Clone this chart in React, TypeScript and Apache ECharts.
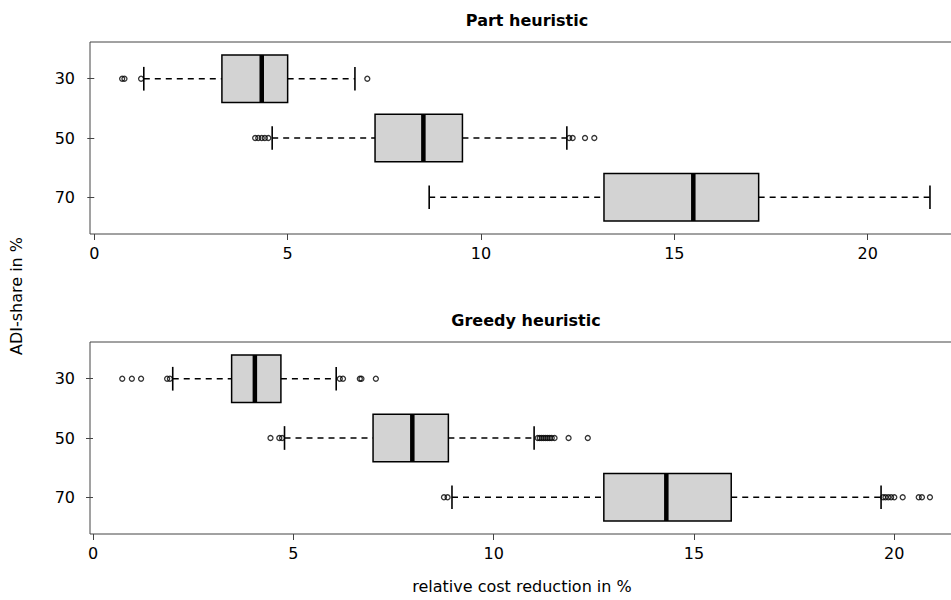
import React, { useEffect, useRef } from "react";
import * as echarts from "echarts";

// ADI-share groups, from top to bottom of each panel
const shareLabels = ["30", "50", "70"];
const xTicks = [0, 5, 10, 15, 20];

// Five-number summaries: [lower whisker, Q1, median, Q3, upper whisker]
const partStats = [
  [1.28, 3.3, 4.33, 5.0, 6.74],
  [4.6, 7.26, 8.51, 9.52, 12.22],
  [8.66, 13.18, 15.49, 17.18, 21.61],
];
const greedyStats = [
  [1.99, 3.46, 4.04, 4.69, 6.07],
  [4.78, 6.99, 7.97, 8.87, 11.01],
  [8.96, 12.75, 14.31, 15.93, 19.67],
];

// Outliers per group
const partOutliers30 = [0.72, 0.78, 1.21, 7.06];
const partOutliers50 = [4.16, 4.24, 4.33, 4.41, 4.5, 12.28, 12.37, 12.69, 12.93];
const partOutliers70: number[] = [];
const greedyOutliers30 = [0.73, 0.97, 1.2, 1.85, 1.92, 6.16, 6.24, 6.66, 6.7, 7.06];
const greedyOutliers50 = [
  4.43, 4.65, 4.72, 11.1, 11.15, 11.2, 11.25, 11.3, 11.35, 11.4, 11.45, 11.52,
  11.87, 12.35,
];
const greedyOutliers70 = [
  8.76, 8.85, 19.72, 19.78, 19.85, 19.92, 20.0, 20.21, 20.61, 20.69, 20.89,
];

const FONT = "'DejaVu Sans', 'Liberation Sans', Arial, sans-serif";
const INK = "#000";
const FRAME = "#444";

function boxData(stats: number[][]) {
  return stats.map((s, i) => [i + 1, ...s]);
}

function outlierData(groups: number[][]) {
  const out: number[][] = [];
  groups.forEach((g, i) => g.forEach((v) => out.push([v, i + 1])));
  return out;
}

function renderBox(_params: any, api: any) {
  const y = api.value(0);
  const lo = api.coord([api.value(1), y]);
  const q1 = api.coord([api.value(2), y]);
  const med = api.coord([api.value(3), y]);
  const q3 = api.coord([api.value(4), y]);
  const hi = api.coord([api.value(5), y]);
  const halfBox = Math.abs(api.size([0, 0.4])[1]);
  const halfStaple = Math.abs(api.size([0, 0.2])[1]);
  const cy = q1[1];
  const dashed = { stroke: INK, lineWidth: 1.3, lineDash: [6, 5] };
  const solid = { stroke: INK, lineWidth: 1.6 };
  return {
    type: "group",
    children: [
      { type: "line", shape: { x1: lo[0], y1: cy, x2: q1[0], y2: cy }, style: dashed },
      { type: "line", shape: { x1: q3[0], y1: cy, x2: hi[0], y2: cy }, style: dashed },
      { type: "line", shape: { x1: lo[0], y1: cy - halfStaple, x2: lo[0], y2: cy + halfStaple }, style: solid },
      { type: "line", shape: { x1: hi[0], y1: cy - halfStaple, x2: hi[0], y2: cy + halfStaple }, style: solid },
      {
        type: "rect",
        shape: { x: q1[0], y: cy - halfBox, width: q3[0] - q1[0], height: halfBox * 2 },
        style: { fill: "#d3d3d3", stroke: INK, lineWidth: 1.5 },
      },
      {
        type: "line",
        shape: { x1: med[0], y1: cy - halfBox, x2: med[0], y2: cy + halfBox },
        style: { stroke: INK, lineWidth: 4.5 },
      },
    ],
  };
}

function xAxisFor(gridIndex: number, min: number, max: number) {
  return {
    type: "value",
    gridIndex,
    min,
    max,
    splitLine: { show: false },
    axisLine: { show: false },
    axisTick: { show: true, length: 6, lineStyle: { color: FRAME, width: 1 }, customValues: xTicks },
    axisLabel: {
      show: true,
      customValues: xTicks,
      color: INK,
      fontSize: 16,
      fontFamily: FONT,
      margin: 11,
      formatter: (v: number) => String(v),
    },
  };
}

function yAxisFor(gridIndex: number) {
  return {
    type: "value",
    gridIndex,
    min: 0.38,
    max: 3.62,
    inverse: true,
    splitLine: { show: false },
    axisLine: { show: false },
    axisTick: { show: true, length: 7, lineStyle: { color: FRAME, width: 1 }, customValues: [1, 2, 3] },
    axisLabel: {
      show: true,
      customValues: [1, 2, 3],
      color: INK,
      fontSize: 16,
      fontFamily: FONT,
      margin: 15,
      formatter: (v: number) => shareLabels[Math.round(v) - 1] ?? "",
    },
  };
}

function outlierSeries(axisIndex: number, data: number[][]) {
  return {
    type: "scatter",
    xAxisIndex: axisIndex,
    yAxisIndex: axisIndex,
    data,
    symbol: "circle",
    symbolSize: 5,
    silent: true,
    itemStyle: { color: "rgba(0,0,0,0)", borderColor: INK, borderWidth: 1.3 },
    z: 5,
  };
}

export default function App() {
  const ref = useRef<HTMLDivElement>(null);

  useEffect(() => {
    if (!ref.current) return;
    const chart = echarts.init(ref.current, undefined, { renderer: "svg" });
    chart.setOption({
      animation: false,
      backgroundColor: "#fff",
      grid: [
        { left: 90, top: 42, width: 874, height: 192, show: true, borderColor: FRAME, borderWidth: 1, backgroundColor: "transparent" },
        { left: 90, top: 342, width: 872, height: 192, show: true, borderColor: FRAME, borderWidth: 1, backgroundColor: "transparent" },
      ],
      xAxis: [xAxisFor(0, -0.111, 22.49), xAxisFor(1, -0.075, 21.69)],
      yAxis: [yAxisFor(0), yAxisFor(1)],
      series: [
        {
          type: "custom",
          xAxisIndex: 0,
          yAxisIndex: 0,
          data: boxData(partStats),
          renderItem: renderBox,
          silent: true,
          encode: { x: [1, 2, 3, 4, 5], y: 0 },
        },
        outlierSeries(0, outlierData([partOutliers30, partOutliers50, partOutliers70])),
        {
          type: "custom",
          xAxisIndex: 1,
          yAxisIndex: 1,
          data: boxData(greedyStats),
          renderItem: renderBox,
          silent: true,
          encode: { x: [1, 2, 3, 4, 5], y: 0 },
        },
        outlierSeries(1, outlierData([greedyOutliers30, greedyOutliers50, greedyOutliers70])),
      ],
      graphic: [
        {
          type: "text",
          x: 527,
          y: 20,
          style: { text: "Part heuristic", fontSize: 16, fontWeight: "bold", fontFamily: FONT, fill: INK, textAlign: "center", textVerticalAlign: "middle" },
        },
        {
          type: "text",
          x: 526,
          y: 320,
          style: { text: "Greedy heuristic", fontSize: 16, fontWeight: "bold", fontFamily: FONT, fill: INK, textAlign: "center", textVerticalAlign: "middle" },
        },
        {
          type: "text",
          x: 522,
          y: 586,
          style: { text: "relative cost reduction in %", fontSize: 16, fontFamily: FONT, fill: INK, textAlign: "center", textVerticalAlign: "middle" },
        },
        {
          type: "text",
          x: 16,
          y: 296,
          rotation: Math.PI / 2,
          style: { text: "ADI-share in %", fontSize: 16, fontFamily: FONT, fill: INK, textAlign: "center", textVerticalAlign: "middle" },
        },
      ],
    });
    return () => chart.dispose();
  }, []);

  return (
    <div style={{ position: "fixed", left: 0, top: 0, width: 951, height: 600, overflow: "hidden", background: "#fff" }}>
      <div ref={ref} style={{ width: 980, height: 600 }} />
    </div>
  );
}
